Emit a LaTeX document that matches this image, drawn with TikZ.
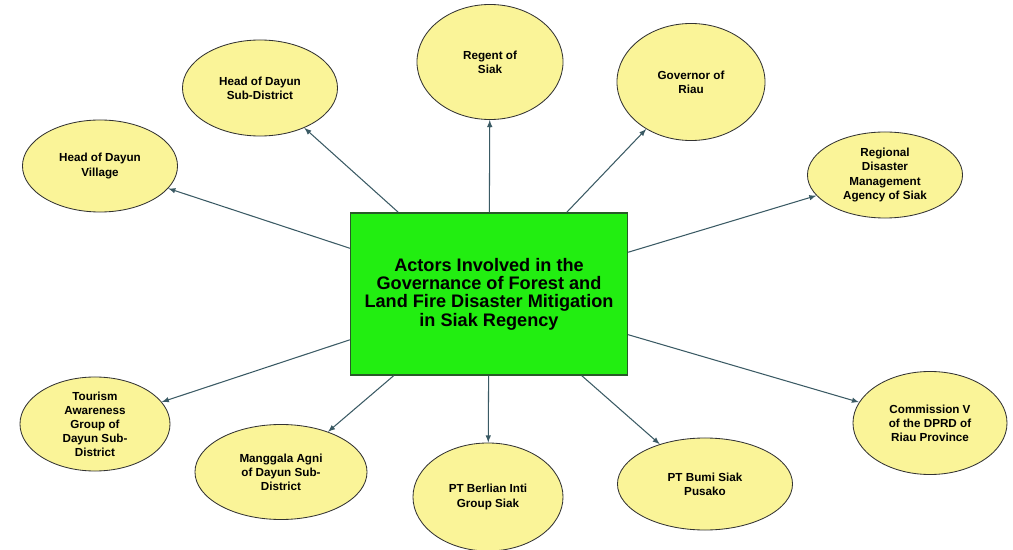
\documentclass[tikz,border=0pt]{standalone}
\usepackage{fontspec}
\setmainfont{Liberation Sans}
\usetikzlibrary{arrows}
\usetikzlibrary{shapes.geometric}

\definecolor{actorfill}{RGB}{250,244,152}
\definecolor{hubfill}{RGB}{34,238,17}
\definecolor{hubline}{RGB}{40,90,40}
\definecolor{linkcol}{RGB}{58,90,100}

\begin{document}
\begin{tikzpicture}[x=0.025cm,y=-0.025cm,
  actor/.style={ellipse,draw=black!80,fill=actorfill,line width=0.6pt,inner sep=0pt,
    align=center,font=\fontsize{8.3}{10}\selectfont\bfseries},
  hub/.style={rectangle,draw=hubline,fill=hubfill,line width=0.9pt,align=center,
    minimum width=6.925cm,minimum height=4.05cm,font=\fontsize{12.9}{13}\selectfont\bfseries},
  link/.style={draw=linkcol,line width=0.75pt,-latex}]

  \useasboundingbox (0,0) rectangle (1013,550);

  \node[hub] (hub) at (489,294) {Actors Involved in the\\Governance of Forest and\\Land Fire Disaster Mitigation\\in Siak Regency};

  % actors round the hub
  \node[actor,minimum width=3.875cm,minimum height=2.3cm] (village) at (100,166) {Head of Dayun\\Village};
  \node[actor,minimum width=3.875cm,minimum height=2.4cm] (subdist) at (260,88) {Head of Dayun\\Sub-District};
  \node[actor,minimum width=3.65cm,minimum height=2.875cm] (regent) at (490,62) {Regent of\\Siak};
  \node[actor,minimum width=3.7cm,minimum height=2.925cm] (governor) at (691,82) {Governor of\\Riau};
  \node[actor,minimum width=3.875cm,minimum height=2.15cm] (bpbd) at (885,175) {Regional\\Disaster\\Management\\Agency of Siak};
  \node[actor,minimum width=3.85cm,minimum height=2.575cm] (commission) at (930,423) {Commission V\\of the DPRD of\\Riau Province};
  \node[actor,minimum width=4.375cm,minimum height=2.3cm] (bumi) at (705,484) {PT Bumi Siak\\Pusako};
  \node[actor,minimum width=3.75cm,minimum height=2.7cm] (berlian) at (488,497) {PT Berlian Inti\\Group Siak};
  \node[actor,minimum width=4.3cm,minimum height=2.375cm] (manggala) at (281,472) {Manggala Agni\\of Dayun Sub-\\District};
  \node[actor,minimum width=3.75cm,minimum height=2.35cm] (tourism) at (95,424) {Tourism\\Awareness\\Group of\\Dayun Sub-\\District};

  \foreach \who in {village,subdist,regent,governor,bpbd,commission,bumi,berlian,manggala,tourism}
    \draw[link] (hub) -- (\who);

\end{tikzpicture}
\end{document}
